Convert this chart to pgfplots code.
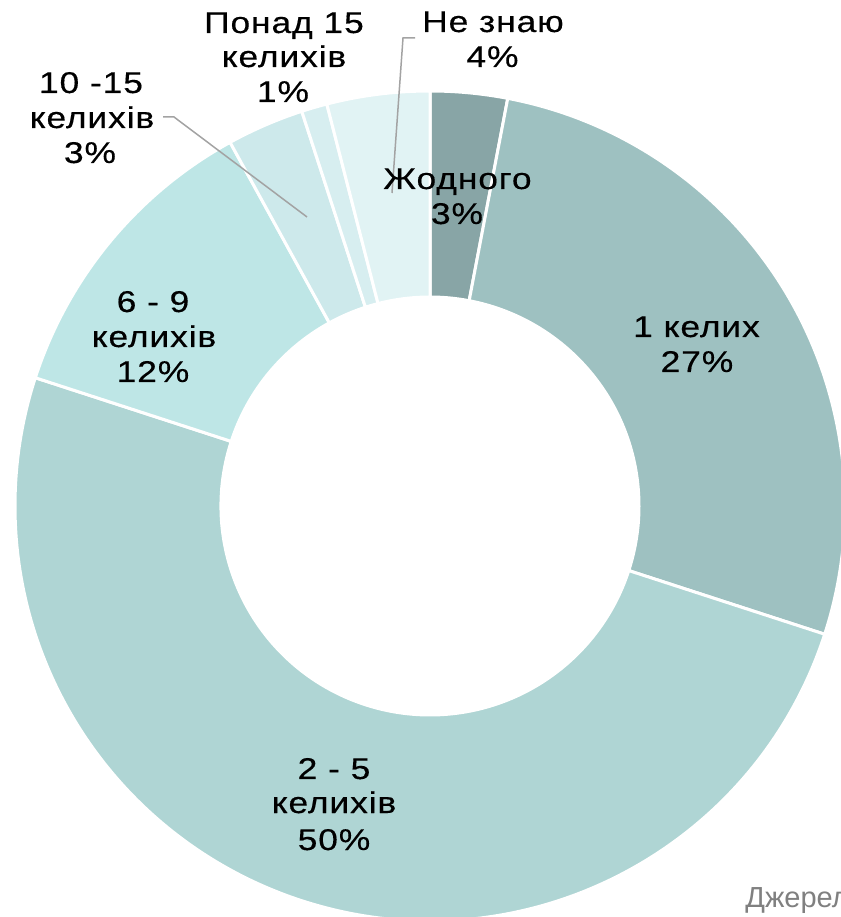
\documentclass[border=0pt]{standalone}
\usepackage{pgfplots}
\pgfplotsset{compat=1.18}
\usepackage{fontspec}
\setmainfont{Liberation Sans}
\newfontfamily\lblfont[FakeStretch=1.18, FakeBold=0.4, LetterSpace=3]{Liberation Sans}
\definecolor{cA}{HTML}{88A5A6}
\definecolor{cB}{HTML}{9EC1C1}
\definecolor{cC}{HTML}{AFD5D4}
\definecolor{cD}{HTML}{BEE6E6}
\definecolor{cE}{HTML}{CDE9EB}
\definecolor{cF}{HTML}{D7EEF0}
\definecolor{cG}{HTML}{E1F3F4}
\definecolor{leader}{HTML}{A3A3A3}
\newcommand\lbl{\lblfont\fontsize{15pt}{18pt}\selectfont}
\begin{document}
\begin{tikzpicture}
\begin{axis}[
  x=0.5pt, y=0.5pt,
  xmin=0, xmax=841, ymin=0, ymax=917,
  hide axis, clip=true, disabledatascaling,
  anchor=south west, at={(0,0)},
]
% share of each slice (%), clockwise from the top
\def\vals{3/cA,27/cB,50/cC,12/cD,3/cE,1/cF,4/cG}
\xdef\cum{0}
\foreach \v/\c in \vals {
  \pgfmathsetmacro\sa{90-3.6*\cum}
  \pgfmathsetmacro\ea{90-3.6*(\cum+\v)}
  \pgfmathsetmacro\newcum{\cum+\v}
  \xdef\cum{\newcum}
  \edef\cmd{\noexpand\filldraw[fill=\c, draw=white, line width=1.5pt]
    (axis cs:430,411) ++(\sa:207.5pt)
    arc[start angle=\sa, end angle=\ea, radius=207.5pt]
    -- ++(\ea+180:103pt)
    arc[start angle=\ea, end angle=\sa, radius=104.5pt] -- cycle;}
  \cmd
}
% leader lines
\draw[leader, line width=0.75pt] (axis cs:163,800) -- (axis cs:174,800) -- (axis cs:307,700);
\draw[leader, line width=0.75pt] (axis cs:415,879) -- (axis cs:403,879) -- (axis cs:392,724);
% labels
\newcommand\lab[3]{\node[anchor=base, inner sep=0pt, font=\lbl] at (axis cs:#1,#2) {#3};}
\lab{457.5}{728}{Жодного}
\lab{457}{693}{3\%}
\lab{696.5}{580}{1 келих}
\lab{697}{545}{27\%}
\lab{334}{138}{2 - 5}
\lab{334}{104}{келихів}
\lab{334}{67}{50\%}
\lab{153}{605}{6 - 9}
\lab{154}{570}{келихів}
\lab{153}{535}{12\%}
\lab{91}{824}{10 -15}
\lab{92}{789}{келихів}
\lab{90}{754}{3\%}
\lab{284}{884}{Понад 15}
\lab{284}{850}{келихів}
\lab{283}{815}{1\%}
\lab{493}{885}{Не знаю}
\lab{492.5}{850}{4\%}
\node[anchor=base west, inner sep=0pt, text=black!50, font=\fontsize{14.5pt}{16pt}\selectfont] at (axis cs:745,10) {Джерело};
\end{axis}
\pgfresetboundingbox
\path[use as bounding box] (0,0) rectangle (420.5pt,458.5pt);
\end{tikzpicture}
\end{document}
